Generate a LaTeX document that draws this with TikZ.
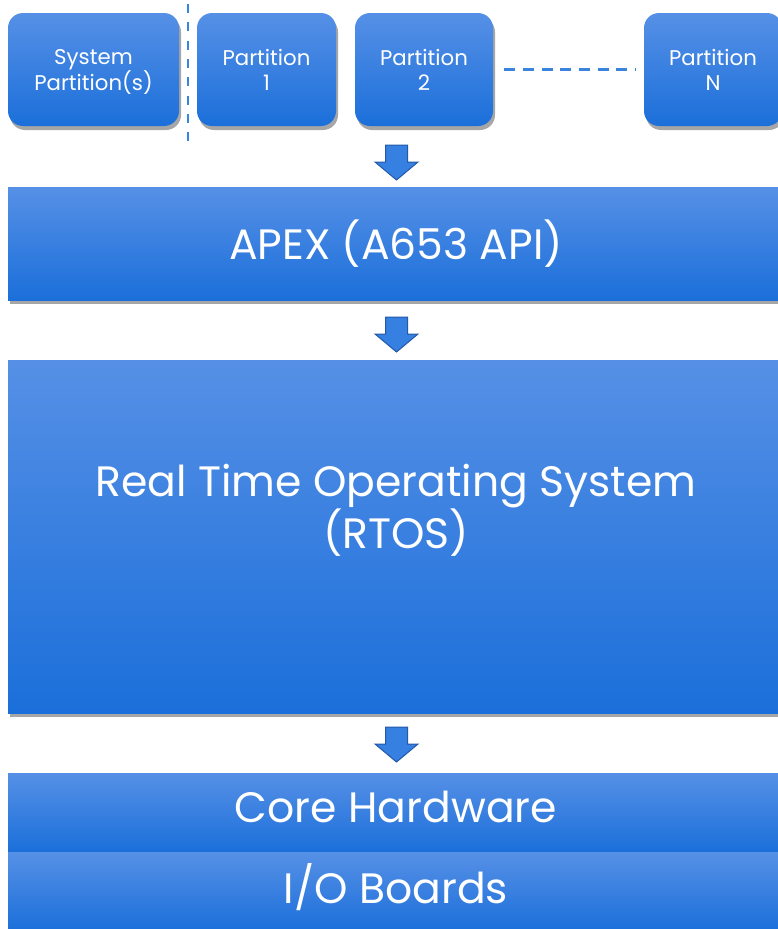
\documentclass[tikz,border=0pt]{standalone}
\usepackage{fontspec}
\setmainfont{Poppins}
\usetikzlibrary{shadows}
\definecolor{gtop}{HTML}{5690E6}
\definecolor{gmid}{HTML}{2C80EA}
\definecolor{gbot}{HTML}{1B6FDA}
\definecolor{dashc}{HTML}{3A84DE}
\definecolor{arrfill}{HTML}{3580E0}
\definecolor{arrdraw}{HTML}{2359A8}
\newcommand\toplift{\rule{0pt}{23.5pt}}
\tikzset{
  grad/.style={top color=gtop, middle color=gmid, bottom color=gbot, draw=none, text=white, align=center, inner sep=0pt},
  shad/.style={drop shadow={shadow xshift=2pt, shadow yshift=-4pt, fill=black, opacity=0.35}},
  pbox/.style={grad, shad, rounded corners=15pt, font=\fontsize{21.3}{25}\selectfont},
  layer/.style={grad, shad, font=\fontsize{42.5}{50}\selectfont},
  sepv/.style={dashc, line width=2pt, dash pattern=on 9pt off 9.3pt},
  seph/.style={dashc, line width=2.6pt, dash pattern=on 11pt off 7.7pt},
  barrow/.style={fill=arrfill, draw=arrdraw, line width=1pt, line join=miter}
}
\begin{document}
\begin{tikzpicture}[x=1pt,y=-1pt]
\useasboundingbox (0,0) rectangle (777,929);
% partitions
\node[pbox, minimum width=171pt, minimum height=113pt] (sys) at (93.5,69.5) {\toplift System\\Partition(s)\strut};
\node[pbox, minimum width=139pt, minimum height=113pt] (p1) at (266.5,69.5) {\toplift Partition\\1\strut};
\node[pbox, minimum width=138pt, minimum height=113pt] (p2) at (424,69.5) {\toplift Partition\\2\strut};
\node[pbox, minimum width=138pt, minimum height=113pt] (pn) at (713,69.5) {\toplift Partition\\N\strut};
\coordinate (vtop) at (188,4);
\coordinate (vbot) at (188,141);
\draw[sepv] (vtop) -- (vbot);
\draw[seph, shorten <=11pt, shorten >=8pt] (p2.east) -- (pn.west);
% layers
\node[layer, minimum width=776pt, minimum height=113pt] (apex) at (396,243.5) {APEX (A653 API)};
\node[layer, minimum width=776pt, minimum height=353pt] (rtos) at (396,536.5) {};
\node[text=white, align=center, font=\fontsize{42.5}{50}\selectfont] (rtostext) at (396,510) {Real Time Operating System\\(RTOS)};
\node[layer, minimum width=776pt, minimum height=79pt] (core) at (396,812.5) {Core Hardware\strut};
\node[layer, minimum width=776pt, minimum height=78pt, anchor=north] (io) at (core.south) {I/O Boards\strut};
% block arrows
\coordinate (a1) at (396.5,145);
\coordinate (a2) at (396.5,317);
\coordinate (a3) at (396.5,727);
\foreach \a in {a1,a2,a3}{
  \draw[barrow] (\a) ++(-11,0) -- ++(22,0) -- ++(0,17) -- ++(10.5,0) -- ++(-21.5,18) -- ++(-21.5,-18) -- ++(10.5,0) -- cycle;
}
\end{tikzpicture}
\end{document}
